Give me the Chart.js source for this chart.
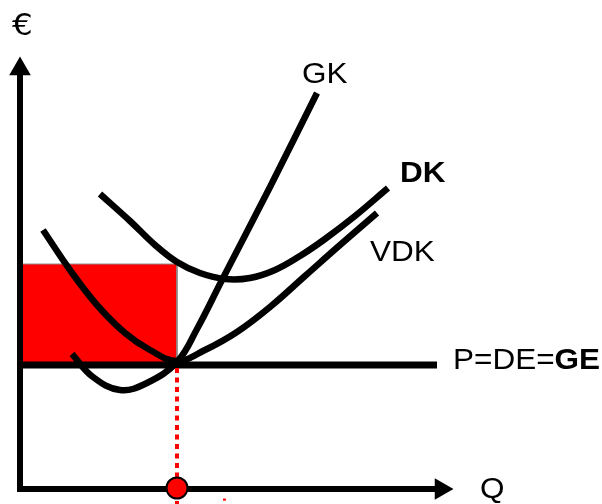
<!DOCTYPE html>
<html>
<head>
<meta charset="utf-8">
<script src="https://cdn.jsdelivr.net/npm/chart.js@4/dist/chart.umd.min.js"></script>
<style>
  html, body { margin: 0; padding: 0; background: #ffffff; }
  #wrap { width: 602px; height: 504px; }
</style>
</head>
<body>
<div id="wrap"><canvas id="costChart" width="602" height="504"></canvas></div>
<script>
// Quantity (Q) and price (EUR) values
var gkQ = [13, 18.25, 25, 31.75, 39.25, 44.25, 50.5, 62.5, 74.25];
var gkEuro = [33.5, 27.75, 24.5, 26.25, 31.5, 39.75, 52, 75.25, 98.75];

var dkQ = [20, 27.5, 33.75, 39.25, 45, 51.25, 57.5, 63.75, 70, 76.25, 83.75, 92];
var dkEuro = [73.5, 66.75, 60.75, 56.5, 53.75, 52.25, 52.5, 54.5, 58, 62.25, 68, 75];

var vdkQ = [5.75, 12.5, 19.25, 26.25, 32.5, 39.25, 46.25, 54.25, 62.5, 71.25, 80, 89.25];
var vdkEuro = [64.5, 54.5, 45.75, 38.75, 34.5, 31.75, 34.5, 39, 45.25, 53, 60.75, 68.75];

// price line P=DE=GE and the chosen quantity
var priceQ = [0, 104.25];
var price = 30.75;
var optimumQ = 39.25;
var averageCostAtOptimum = 56;

// axes ends
var axisQEnd = 105.25;
var axisEuroEnd = 104.75;

// labels
var labelTexts = ['€', 'GK', 'DK', 'VDK', 'P=DE=', 'Q'];
var labelQ = [-2, 70.5, 95, 87.5, 108.25, 115];
var labelEuro = [113.25, 101.25, 76.5, 56.75, 29.75, -2.5];
var labelBold = [false, false, true, false, false, false];

function toPoints(xs, ys) {
    return xs.map(function (x, i) { return { x: x, y: ys[i] }; });
}

var black = '#000000';
var red = '#ff0000';
var textFont = '30px "Liberation Sans", Arial, sans-serif';

// draws the text labels at data positions
var labelPlugin = {
    id: 'curveLabels',
    afterDatasetsDraw: function (chart) {
        var ctx = chart.ctx;
        var xs = chart.scales.x;
        var ys = chart.scales.y;
        ctx.save();
        ctx.fillStyle = black;
        ctx.textBaseline = 'alphabetic';
        ctx.textAlign = 'left';
        for (var i = 0; i < labelTexts.length; i++) {
            var px = xs.getPixelForValue(labelQ[i]);
            var py = ys.getPixelForValue(labelEuro[i]);
            ctx.save();
            ctx.translate(px, py);
            ctx.scale(1.05, 1);
            if (labelTexts[i] === '€') {
                ctx.font = '31px "DejaVu Sans", sans-serif';
            } else {
                ctx.font = (labelBold[i] ? 'bold ' : '') + textFont;
            }
            ctx.fillText(labelTexts[i], 0, 0);
            if (labelTexts[i] === 'P=DE=') {
                var w = ctx.measureText(labelTexts[i]).width;
                ctx.font = 'bold ' + textFont;
                ctx.fillText('GE', w, 0);
            }
            ctx.restore();
        }
        ctx.restore();
    }
};

var curveStyle = {
    type: 'line',
    borderColor: black,
    borderWidth: 6.5,
    pointRadius: 0,
    tension: 0.4,
    fill: false,
    clip: false
};

var canvas = document.getElementById('costChart');
var chart = new Chart(canvas, {
    type: 'line',
    data: {
        datasets: [
            {
                label: 'Q*',
                data: [{ x: optimumQ, y: 0 }],
                showLine: false,
                pointRadius: 10.5,
                pointBackgroundColor: red,
                pointBorderColor: black,
                pointBorderWidth: 2,
                clip: false
            },
            {
                label: 'dotted',
                data: [{ x: optimumQ, y: price - 0.75 }, { x: optimumQ, y: -4 }],
                borderColor: red,
                borderWidth: 4,
                borderDash: [5, 4.5],
                pointRadius: 0,
                clip: false
            },
            {
                label: 'speck',
                data: [{ x: 50.75, y: -2.9 }, { x: 51.5, y: -2.9 }],
                borderColor: red,
                borderWidth: 2,
                pointRadius: 0,
                clip: false
            },
            {
                label: 'Q axis',
                data: [{ x: -0.75, y: -0.25 }, { x: axisQEnd, y: -0.25 }],
                borderColor: black,
                borderWidth: 6,
                pointRadius: [0, 12.5],
                pointStyle: 'triangle',
                pointRotation: 90,
                pointBackgroundColor: black,
                pointBorderWidth: 0,
                clip: false
            },
            {
                label: 'EUR axis',
                data: [{ x: 0, y: -0.75 }, { x: 0, y: axisEuroEnd }],
                borderColor: black,
                borderWidth: 6,
                pointRadius: [0, 12.5],
                pointStyle: 'triangle',
                pointBackgroundColor: black,
                pointBorderWidth: 0,
                clip: false
            },
            Object.assign({}, curveStyle, { label: 'GK', data: toPoints(gkQ, gkEuro) }),
            Object.assign({}, curveStyle, { label: 'DK', data: toPoints(dkQ, dkEuro) }),
            Object.assign({}, curveStyle, { label: 'VDK', data: toPoints(vdkQ, vdkEuro) }),
            {
                label: 'P=DE=GE',
                data: priceQ.map(function (q) { return { x: q, y: price }; }),
                borderColor: black,
                borderWidth: 7,
                pointRadius: 0,
                clip: false
            },
            {
                // loss rectangle
                label: 'Verlust',
                data: [
                    { x: 0.5, y: averageCostAtOptimum },
                    { x: optimumQ, y: averageCostAtOptimum },
                    { x: optimumQ, y: price }
                ],
                borderColor: '#8c8c8c',
                borderWidth: 1,
                backgroundColor: red,
                fill: { value: price },
                pointRadius: 0,
                tension: 0
            }
        ]
    },
    options: {
        responsive: false,
        animation: false,
        events: [],
        layout: { autoPadding: false, padding: { left: 20, top: 8, right: 0, bottom: 0 } },
        plugins: {
            legend: { display: false },
            tooltip: { enabled: false }
        },
        scales: {
            x: { type: 'linear', min: 0, max: 145.5, display: false },
            y: { type: 'linear', min: -4, max: 120, display: false }
        }
    },
    plugins: [labelPlugin]
});
</script>
</body>
</html>
